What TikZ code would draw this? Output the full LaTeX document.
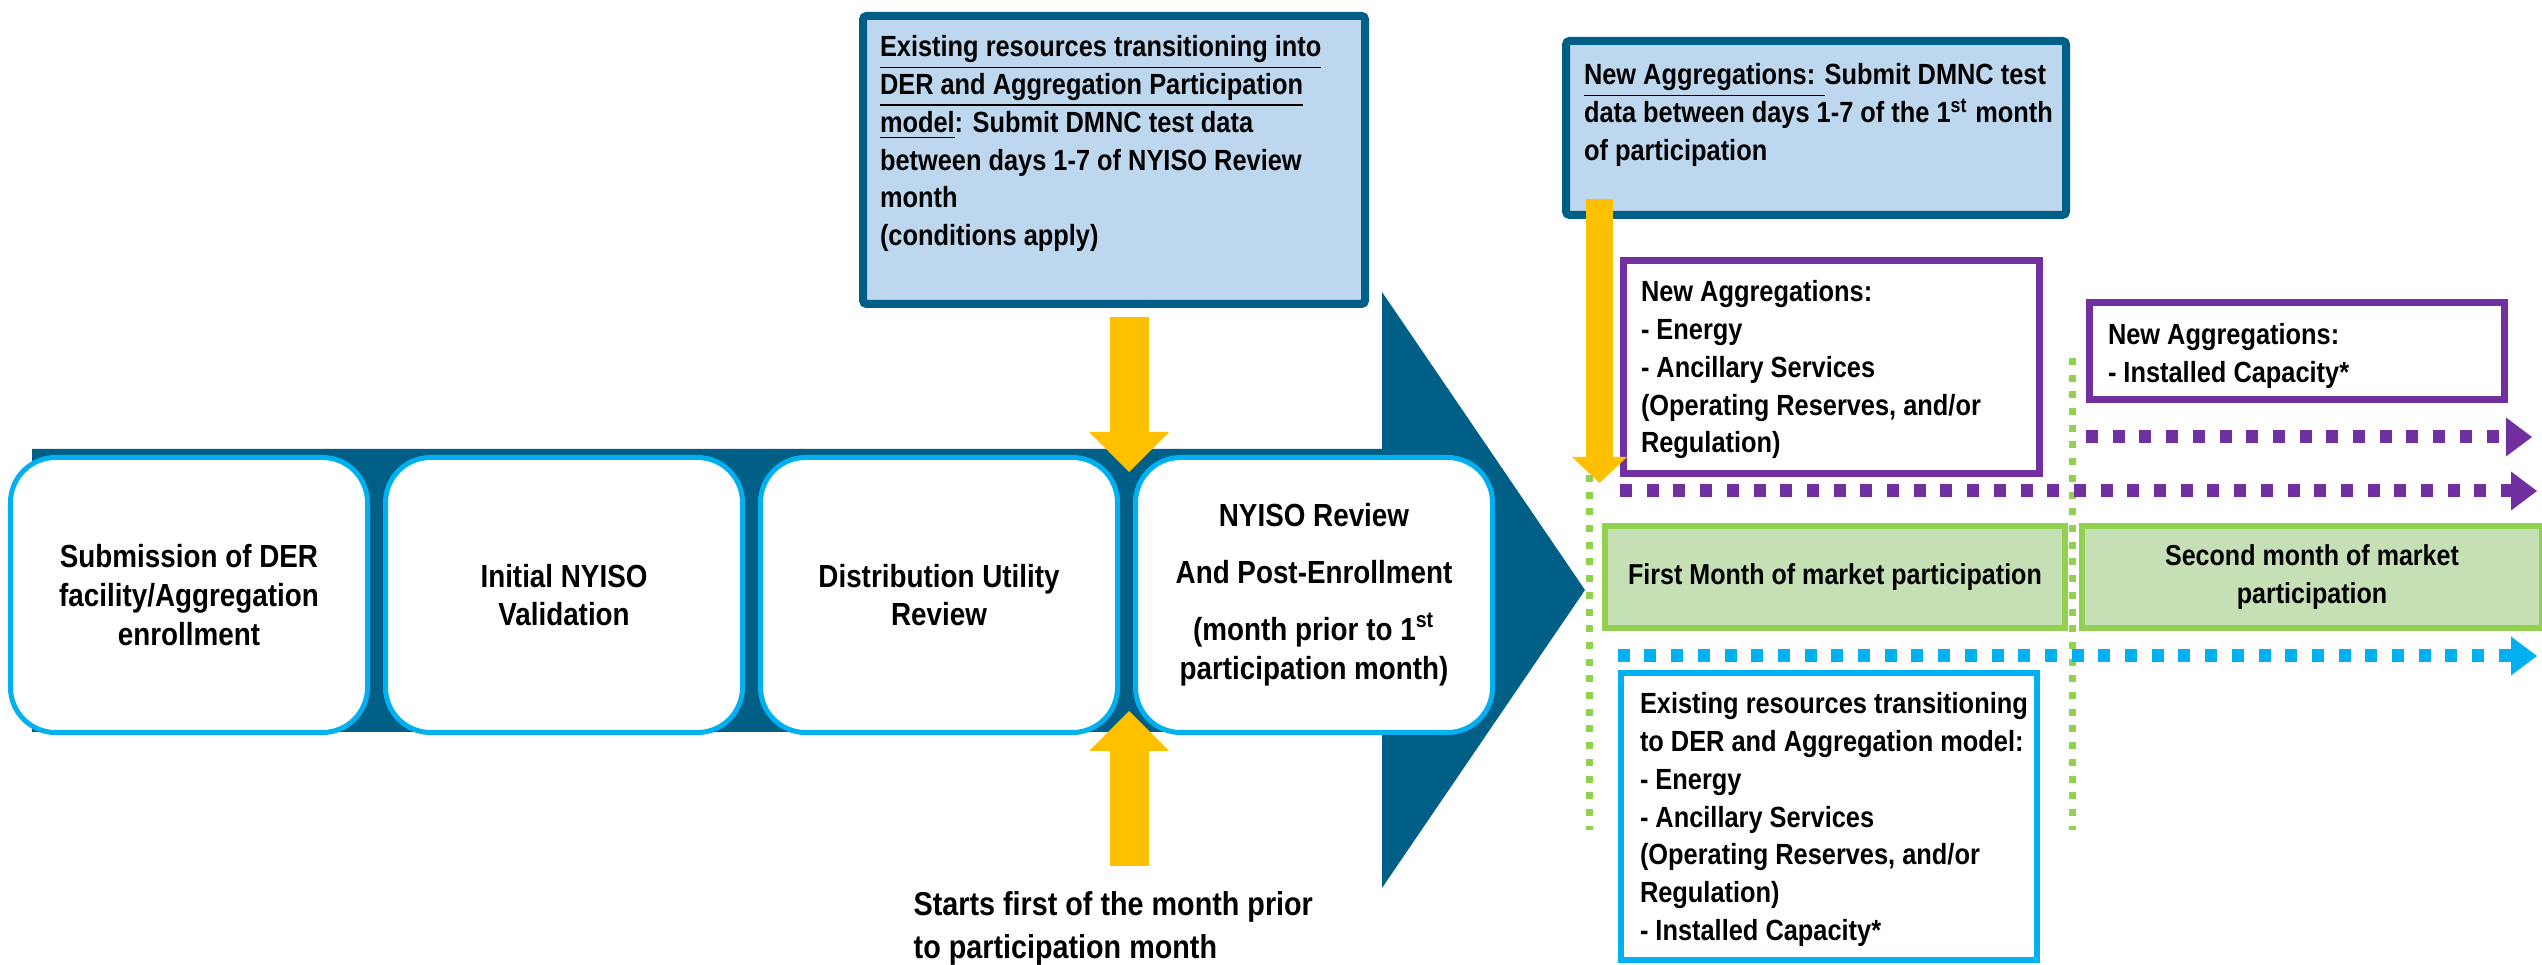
\documentclass[tikz,border=0pt]{standalone}
\usepackage{fontspec}
\setmainfont{Liberation Sans}[FakeStretch=0.87]
\usetikzlibrary{arrows.meta,positioning,calc}
\definecolor{nyblue}{HTML}{005F86}
\definecolor{skyblue}{HTML}{00B0F0}
\definecolor{notefill}{HTML}{BDD7EE}
\definecolor{gold}{HTML}{FFC000}
\definecolor{purp}{HTML}{7030A0}
\definecolor{lgreen}{HTML}{92D050}
\definecolor{gfill}{HTML}{C5E0B4}
\newcommand{\boxtext}[3]{\parbox[c][#2][t]{#1}{\raggedright #3}}
\tikzset{
  stage/.style ={draw=skyblue,line width=0.05cm,fill=white,rounded corners=0.45cm,
                 minimum width=3.57cm,minimum height=2.75cm,inner sep=0pt,align=center,
                 font=\bfseries\fontsize{9.1}{11}\selectfont},
  note/.style  ={draw=nyblue,line width=0.08cm,fill=notefill,rounded corners=1pt,
                 font=\bfseries\fontsize{8.3}{10.8}\selectfont},
  agg/.style   ={draw=purp,line width=0.07cm,fill=white,font=\bfseries\fontsize{8.3}{10.8}\selectfont},
  exist/.style ={draw=skyblue,line width=0.065cm,fill=white,font=\bfseries\fontsize{8.3}{10.8}\selectfont},
  month/.style ={draw=lgreen,line width=0.06cm,fill=gfill,minimum width=4.6cm,minimum height=1.02cm,
                 inner sep=0pt,align=center,font=\bfseries\fontsize{8.2}{10.8}\selectfont},
  fat/.style   ={gold,line width=0.39cm,-{Triangle[length=0.40cm,width=0.80cm,line width=0pt]}},
  fatsm/.style ={gold,line width=0.27cm,-{Triangle[length=0.26cm,width=0.55cm,line width=0pt]}},
  pdash/.style ={purp,line width=0.13cm,dash pattern=on 0.12cm off 0.147cm,
                 -{Triangle[length=0.26cm,width=0.39cm,line width=0pt]}},
  bdash/.style ={pdash,skyblue},
  sep/.style   ={lgreen,line width=0.07cm,dash pattern=on 0.07cm off 0.097cm},
  lbl/.style   ={font=\bfseries\fontsize{9.4}{12.2}\selectfont,align=left,inner sep=0pt},
}
\begin{document}
\begin{tikzpicture}[x=1cm,y=-1cm]
  \useasboundingbox (0,0) rectangle (25.42,9.65);
  % process band
  \fill[nyblue] (0.32,4.49) -- (13.82,4.49) -- (13.82,2.92) -- (15.85,5.90)
    -- (13.82,8.88) -- (13.82,7.32) -- (0.32,7.32) -- cycle;
  \node[stage] (s1) at (1.89,5.95) {Submission of DER\\facility/Aggregation\\enrollment};
  \node[stage,right=0.13cm of s1] (s2) {Initial NYISO\\Validation};
  \node[stage,right=0.13cm of s2] (s3) {Distribution Utility\\Review};
  \node[stage,right=0.13cm of s3] (s4) {NYISO Review\\[5.2pt]And Post-Enrollment\\[5.2pt](month prior to 1\textsuperscript{st}\\participation month)};

  \node[note,inner xsep=0.17cm,inner ysep=0.19cm] (dmncA) at (11.14,1.60)
    {\boxtext{4.68cm}{2.50cm}{\mbox{\underline{Existing resources transitioning into}}\\
     \mbox{\underline{DER and Aggregation Participation}}\\
     \underline{model}: Submit DMNC test data\\
     \mbox{between days 1-7 of NYISO Review}\\
     month\\
     (conditions apply)}};
  \coordinate (revT) at (11.29,4.72);
  \coordinate (revB) at (11.29,7.11);
  \coordinate (upS) at (11.29,8.66);
  \draw[fat] ([yshift=-0.09cm]dmncA.south -| revT) -- (revT);
  \draw[fat] (upS) -- (revB);
  \node[lbl,anchor=north west] (startlbl) at (9.13,8.91)
    {Starts first of the month prior\\to participation month};

  % participation months
  \node[month] (m1) at (18.35,5.77) {First Month of market participation};
  \node[month,right=0.11cm of m1] (m2) {Second month of market\\participation};
  \coordinate (g1t) at (15.89,3.58); \coordinate (g1b) at (15.89,8.30);
  \coordinate (g2t) at (20.72,3.58); \coordinate (g2b) at (20.72,8.30);
  \draw[sep] (g1t) -- (g1b);
  \draw[sep] (g2t) -- (g2b);

  \node[note,inner xsep=0.18cm,inner ysep=0.22cm] (dmncB) at (18.16,1.28)
    {\boxtext{4.64cm}{1.30cm}{\mbox{\underline{New Aggregations: }Submit DMNC test}\\
     \mbox{data between days 1-7 of the 1\textsuperscript{st} month}\\
     of participation}};
  \node[agg,inner xsep=0.175cm,inner ysep=0.195cm] (aggA) at (18.315,3.67)
    {\boxtext{3.81cm}{1.74cm}{New Aggregations:\\- Energy\\- Ancillary Services\\
     \mbox{(Operating Reserves, and/or}\\Regulation)}};
  \node[agg,inner xsep=0.185cm,inner ysep=0.205cm] (aggB) at (22.97,3.51)
    {\boxtext{3.78cm}{0.56cm}{New Aggregations:\\- Installed Capacity*}};
  \node[exist,inner xsep=0.19cm,inner ysep=0.19cm] (exist) at (18.29,8.165)
    {\boxtext{3.78cm}{2.49cm}{\mbox{Existing resources transitioning}\\
     \mbox{to DER and Aggregation model:}\\- Energy\\- Ancillary Services\\
     \mbox{(Operating Reserves, and/or}\\Regulation)\\- Installed Capacity*}};

  \coordinate (endP1) at (25.32,4.37);
  \coordinate (endP2) at (25.37,4.91);
  \coordinate (endB) at (25.37,6.56);
  \draw[pdash] (aggB.south west |- endP1) -- (endP1);
  \draw[pdash] (aggA.south west |- endP2) -- (endP2);
  \draw[bdash] (exist.north west |- endB) -- (endB);
  \coordinate (m1T) at (15.995,4.83);
  \draw[fatsm] ([yshift=0.20cm]dmncB.south -| m1T) -- (m1T);
\end{tikzpicture}
\end{document}
